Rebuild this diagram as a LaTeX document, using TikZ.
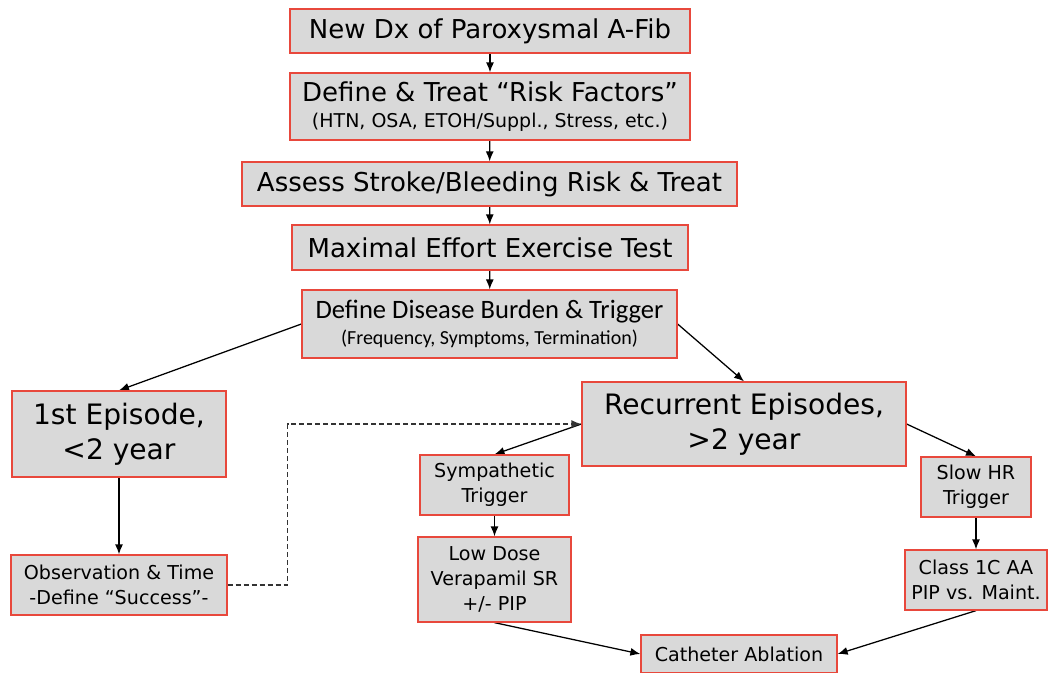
\documentclass[tikz,border=0pt]{standalone}
\usepackage{fontspec}
\setmainfont{DejaVu Sans}
\newfontfamily\calib{Carlito}
\usetikzlibrary{positioning}
\usetikzlibrary{arrows.meta}
\pgfdeclarelayer{edgelayer}
\pgfdeclarelayer{nodelayer}
\pgfsetlayers{edgelayer,nodelayer,main}
\definecolor{boxred}{RGB}{232,72,60}
\tikzstyle{box}=[rectangle,fill=gray!30,draw=boxred,line width=0.9pt,align=center,inner sep=0pt]
\tikzstyle{big_text}=[font=\fontsize{18.5}{22}\selectfont]
\tikzstyle{huge_text}=[font=\fontsize{20}{25}\selectfont]
\tikzstyle{small_text}=[font=\fontsize{13.6}{17.8}\selectfont]
\tikzstyle{flow}=[-{Latex[length=2.5mm,width=2mm]},draw=black,line width=0.9pt]
\tikzstyle{side_flow}=[-{Latex[length=2.5mm,width=2mm]},draw=black!80,line width=1pt,dash pattern=on 3.5pt off 2.2pt]

\begin{document}
\begin{tikzpicture}
	\useasboundingbox (0,0) rectangle (26.2,-16.825);
	\begin{pgfonlayer}{nodelayer}
		\node [box,big_text,minimum width=10cm,minimum height=1.1cm] (0) at (12.25,-0.775) {New Dx of Paroxysmal A-Fib};
		\node [box,minimum width=10cm,minimum height=1.675cm] (1) at (12.25,-2.6625) {{\fontsize{18.5}{22}\selectfont Define \& Treat “Risk Factors”}\\[6pt]{\fontsize{13.5}{16}\selectfont (HTN, OSA, ETOH/Suppl., Stress, etc.)}};
		\node [box,big_text,minimum width=12.375cm,minimum height=1.1cm] (2) at (12.2375,-4.6) {Assess Stroke/Bleeding Risk \& Treat};
		\node [box,big_text,minimum width=9.9cm,minimum height=1.125cm] (3) at (12.25,-6.1875) {Maximal Effort Exercise Test};
		\node [box,minimum width=9.375cm,minimum height=1.7cm] (4) at (12.2375,-8.1) {{\calib\fontsize{18.9}{22}\selectfont Define Disease Burden \& Trigger}\\[4pt]{\calib\fontsize{14.2}{16}\selectfont (Frequency, Symptoms, Termination)}};
		\node [box,huge_text,minimum width=5.35cm,minimum height=2.15cm] (5) at (2.975,-10.85) {1st Episode,\\{<}2 year};
		\node [box,huge_text,minimum width=8.1cm,minimum height=2.1cm] (6) at (18.6,-10.6) {Recurrent Episodes,\\{>}2 year};
		\node [box,small_text,minimum width=3.725cm,minimum height=1.5cm] (7) at (12.3625,-12.125) {Sympathetic\\Trigger};
		\node [box,small_text,minimum width=2.75cm,minimum height=1.5cm] (8) at (24.4,-12.175) {Slow HR\\Trigger};
		\node [box,small_text,minimum width=5.4cm,minimum height=1.5cm] (9) at (2.975,-14.625) {Observation \& Time\\-Define “Success”-};
		\node [box,small_text,minimum width=3.825cm,minimum height=2.125cm] (10) at (12.3625,-14.4875) {Low Dose\\Verapamil SR\\+/- PIP};
		\node [box,small_text,minimum width=3.55cm,minimum height=1.5cm] (11) at (24.4,-14.5) {Class 1C AA\\PIP vs. Maint.};
		\node [box,small_text,minimum width=4.9cm,minimum height=0.95cm] (12) at (18.475,-16.35) {Catheter Ablation};
	\end{pgfonlayer}
	\begin{pgfonlayer}{edgelayer}
		\draw [style=flow] (0) to (1);
		\draw [style=flow] (1) to (2);
		\draw [style=flow] (2) to (3);
		\draw [style=flow] (3) to (4);
		\draw [style=flow] (4.west) to (5.north);
		\draw [style=flow] (4.east) to (6.north);
		\draw [style=flow] (6.west) to (7.north);
		\draw [style=flow] (6.east) to (8.north);
		\draw [style=flow] (5) to (9);
		\draw [style=flow] (7) to (10);
		\draw [style=flow] (8) to (11);
		\draw [style=flow] (10.south) to (12.west);
		\draw [style=flow] (11.south) to (12.east);
		\draw [style=side_flow] (9.east) -- ++(1.5,0) |- (6.west);
	\end{pgfonlayer}
\end{tikzpicture}
\end{document}
